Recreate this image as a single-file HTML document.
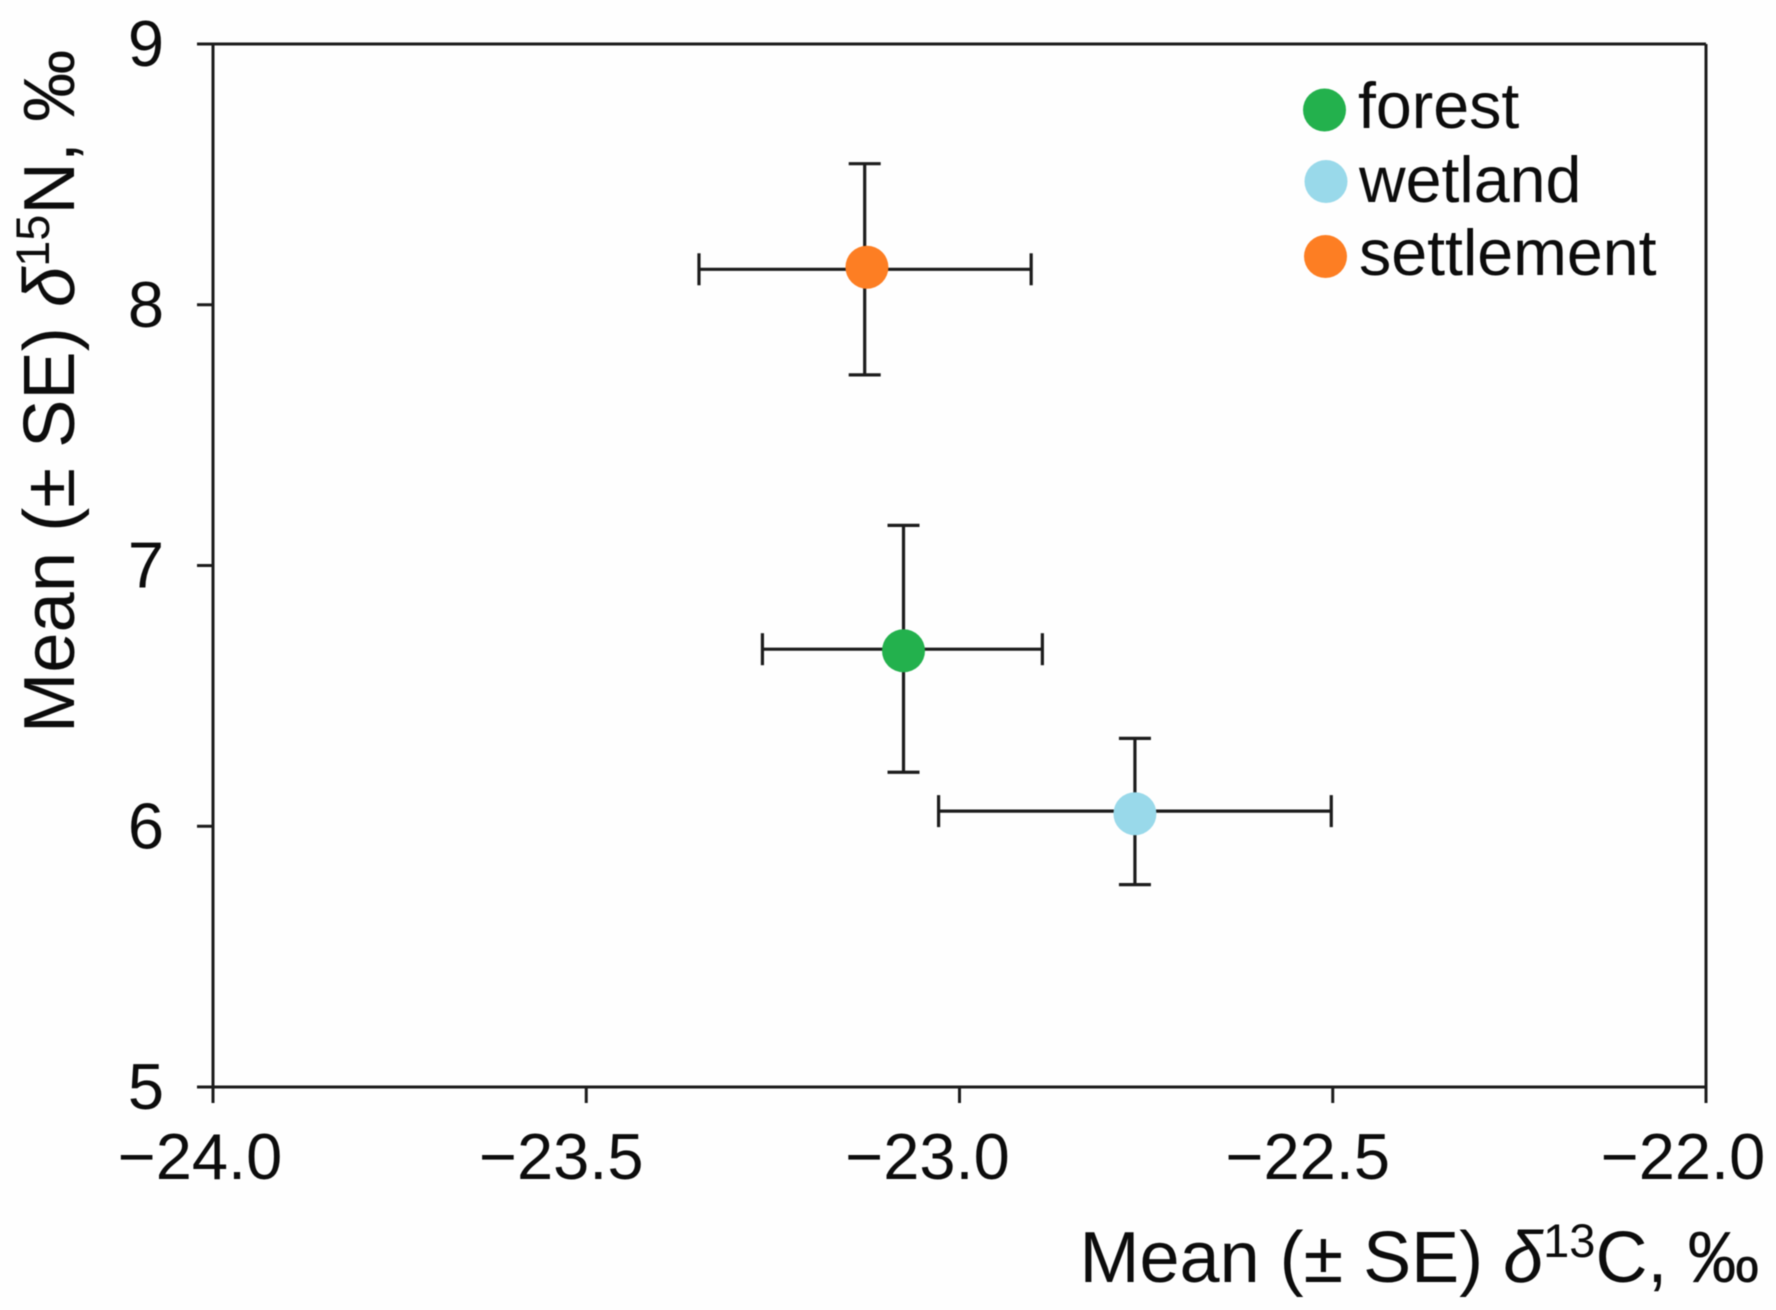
<!DOCTYPE html>
<html lang="en">
<head>
<meta charset="utf-8">
<title>Mean isotope values by habitat</title>
<style>
html,body{margin:0;padding:0;background:#fff;width:1776px;height:1310px;overflow:hidden}
svg{display:block;filter:blur(0.6px)}
text{font-family:"Liberation Sans",sans-serif;fill:#0c0c0c}
</style>
</head>
<body>
<svg id="chart" xmlns="http://www.w3.org/2000/svg" width="1776" height="1310" viewBox="0 0 1776 1310">
  <rect x="0" y="0" width="1776" height="1310" fill="#fefefe"/>
  <g id="axes"></g>
  <g id="marks"></g>
  <text x="1079.5" y="1282" font-size="72">Mean (± SE) <tspan font-style="italic">δ</tspan><tspan font-size="47" dy="-25">13</tspan><tspan dy="25">C, ‰</tspan></text>
  <text x="74" y="733" font-size="72.4" transform="rotate(-90 74 733)">Mean (± SE) <tspan font-style="italic">δ</tspan><tspan font-size="47" dy="-25">15</tspan><tspan dy="25">N, ‰</tspan></text>
  <g>
    <g>
      <circle cx="1324.5" cy="110" r="21.5" fill="#23b14d"/>
      <text x="1358" y="128" font-size="64.5">forest</text>
    </g>
    <g>
      <circle cx="1326" cy="181.5" r="21.5" fill="#99d9ea"/>
      <text x="1359" y="202" font-size="64.5">wetland</text>
    </g>
    <g>
      <circle cx="1325.5" cy="256.5" r="21.5" fill="#fd7e23"/>
      <text x="1359" y="275" font-size="64.5">settlement</text>
    </g>
  </g>
</svg>
<script>
const groups = ['forest', 'wetland', 'settlement'];
const pointX = [-23.075, -22.765, -23.124];
const pointY = [6.673, 6.048, 8.144];
const barX = [-23.075, -22.765, -23.127];
const barY = [6.679, 6.058, 8.136];
const xLower = [-23.264, -23.028, -23.349];
const xUpper = [-22.889, -22.502, -22.904];
const yLower = [6.207, 5.776, 7.731];
const yUpper = [7.154, 6.337, 8.541];
const xTicks = [-24, -23.5, -23, -22.5, -22];
const yTicks = [5, 6, 7, 8, 9];
const xTickLabels = ['\u221224.0', '\u221223.5', '\u221223.0', '\u221222.5', '\u221222.0'];
const yTickLabels = ['5', '6', '7', '8', '9'];
const groupColors = ['#23b14d', '#99d9ea', '#fd7e23'];

const NS = 'http://www.w3.org/2000/svg';
const plot = { left: 213, right: 1706, top: 44, bottom: 1087 };
const xDomain = [-24, -22];
const yDomain = [5, 9];
const sx = v => plot.left + (v - xDomain[0]) / (xDomain[1] - xDomain[0]) * (plot.right - plot.left);
const sy = v => plot.bottom - (v - yDomain[0]) / (yDomain[1] - yDomain[0]) * (plot.bottom - plot.top);

function make(tag, attrs, parent) {
  const node = document.createElementNS(NS, tag);
  for (const key in attrs) node.setAttribute(key, attrs[key]);
  parent.appendChild(node);
  return node;
}
function segment(x1, y1, x2, y2, width, parent) {
  return make('line', { x1, y1, x2, y2, stroke: '#1c1c1c', 'stroke-width': width }, parent);
}

const axes = document.getElementById('axes');
const marks = document.getElementById('marks');

const frameTop = segment(plot.left, plot.top, plot.right, plot.top, 3, axes);


const frameRight = segment(plot.right, plot.top, plot.right, plot.bottom, 3, axes);


const axisLeft = segment(plot.left, plot.top, plot.left, plot.bottom, 3, axes);


const axisBottom = segment(plot.left, plot.bottom, plot.right, plot.bottom, 3, axes);



xTicks.forEach((value, i) => {
  const x = sx(value);
  const tick = segment(x, plot.bottom, x, plot.bottom + 16, 3, axes);
  
  
  const nudge = i === 0 ? -13 : (i === 2 ? -32 : (i === 4 ? -23 : -25));
  const label = make('text', { x: x + nudge, y: 1179, 'font-size': 65, 'text-anchor': 'middle' }, axes);
  
  
  label.textContent = xTickLabels[i];
});

yTicks.forEach((value, i) => {
  const y = sy(value);
  const tick = segment(plot.left - 16, y, plot.left, y, 3, axes);
  
  
  const label = make('text', { x: 164, y: y + 22, 'font-size': 65, 'text-anchor': 'end' }, axes);
  
  
  label.textContent = yTickLabels[i];
});

groups.forEach((name, i) => {
  const cap = 16;
  const group = make('g', {}, marks);
  
  

  const hBar = segment(sx(xLower[i]), sy(barY[i]), sx(xUpper[i]), sy(barY[i]), 3.2, group);
  
  
  const hCapLow = segment(sx(xLower[i]), sy(barY[i]) - cap, sx(xLower[i]), sy(barY[i]) + cap, 3.2, group);
  
  
  const hCapHigh = segment(sx(xUpper[i]), sy(barY[i]) - cap, sx(xUpper[i]), sy(barY[i]) + cap, 3.2, group);
  
  

  const vBar = segment(sx(barX[i]), sy(yLower[i]), sx(barX[i]), sy(yUpper[i]), 3.2, group);
  
  
  const vCapLow = segment(sx(barX[i]) - cap, sy(yLower[i]), sx(barX[i]) + cap, sy(yLower[i]), 3.2, group);
  
  
  const vCapHigh = segment(sx(barX[i]) - cap, sy(yUpper[i]), sx(barX[i]) + cap, sy(yUpper[i]), 3.2, group);
  
  

  const dot = make('circle', { cx: sx(pointX[i]), cy: sy(pointY[i]), r: 21.5, fill: groupColors[i] }, group);
  
  
});
</script>
</body>
</html>
